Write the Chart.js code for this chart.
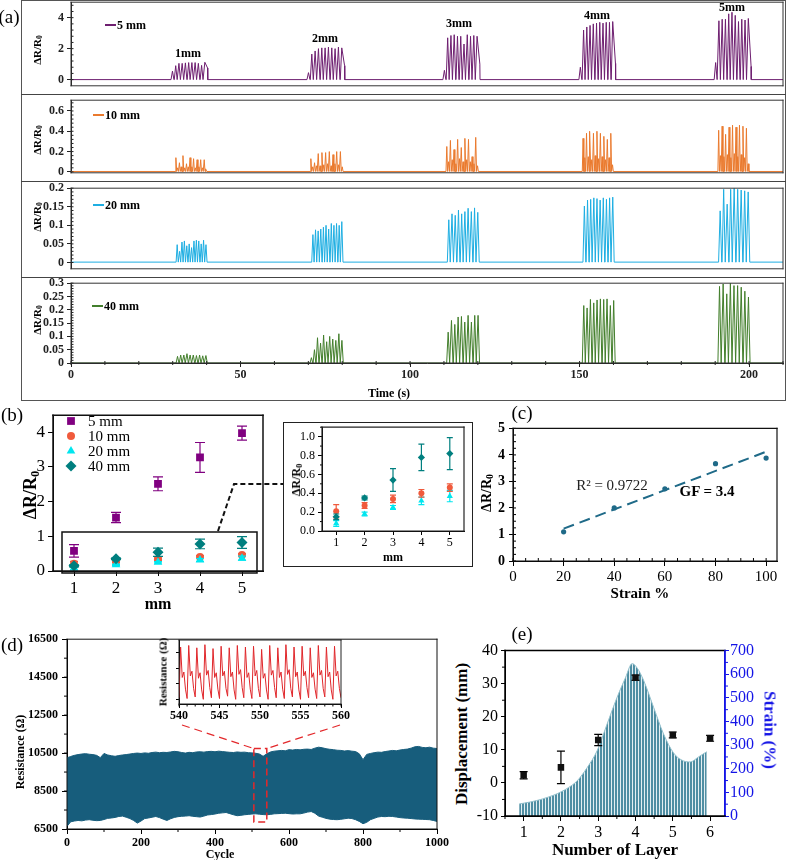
<!DOCTYPE html>
<html>
<head>
<meta charset="utf-8">
<title>Strain sensor response</title>
<script src="https://cdn.jsdelivr.net/npm/chart.js@4.4.1/dist/chart.umd.min.js"></script>
<style>
  html, body { margin: 0; padding: 0; background: #fff; }
  #fig { position: relative; width: 786px; height: 860px; overflow: hidden;
         font-family: 'Liberation Serif', 'Times New Roman', serif; color: #000; }
  #fig canvas { position: absolute; }
  .lbl { position: absolute; white-space: nowrap; line-height: 1; }
  .box { position: absolute; box-sizing: border-box; }
  .lbl sub { font-size: 70%; vertical-align: -0.2em; line-height: 0; }
</style>
</head>
<body>
<div id="fig"></div>
<script>
// ---------- (a) pulse trains, one inner list of peak heights per burst ----------
const timeTicks = [0, 50, 100, 150, 200];
const burstLabels = ['1mm', '2mm', '3mm', '4mm', '5mm'];

const starts5 = [29.5, 69.6, 109.7, 149.8, 189.7];
const ends5 = [40.0, 80.4, 120.3, 160.3, 200.3];
const peaks5 = [
  [0.55, 0.9, 1.05, 1.05, 1.08, 1.1, 1.1, 1.1, 1.05, 0.92, 1.12],
  [0.45, 1.65, 1.85, 2.0, 2.05, 2.05, 2.1, 2.05, 2.0, 2.1, 2.05],
  [0.6, 2.7, 2.85, 2.9, 2.8, 2.8, 2.3, 2.9, 2.8, 2.85, 2.8],
  [0.8, 3.2, 3.4, 3.5, 3.6, 3.65, 3.7, 3.65, 3.7, 3.7, 3.75],
  [1.1, 3.8, 3.9, 3.9, 4.25, 4.35, 4.15, 3.75, 3.9, 3.85, 3.95]
];
const tails5 = [0.75, 0.9, 1.0, 1.05, 0.85];

const starts10 = [30.7, 70.5, 110.6, 150.8, 190.8];
const ends10 = [40.1, 80.3, 120.2, 160.0, 200.0];
const peaks10 = [
  [0.14, 0.04, 0.09, 0.05, 0.16, 0.04, 0.08, 0.05, 0.14, 0.05, 0.13, 0.04, 0.12, 0.05, 0.12, 0.04, 0.12, 0.03],
  [0.13, 0.05, 0.09, 0.06, 0.18, 0.06, 0.19, 0.07, 0.19, 0.08, 0.2, 0.06, 0.17, 0.08, 0.2, 0.07, 0.2, 0.05],
  [0.25, 0.1, 0.31, 0.12, 0.22, 0.08, 0.32, 0.13, 0.24, 0.1, 0.33, 0.12, 0.32, 0.1, 0.15, 0.08, 0.34, 0.06],
  [0.33, 0.14, 0.38, 0.15, 0.4, 0.12, 0.38, 0.16, 0.4, 0.13, 0.38, 0.15, 0.35, 0.12, 0.32, 0.14, 0.38, 0.07],
  [0.41, 0.16, 0.45, 0.15, 0.37, 0.17, 0.44, 0.14, 0.46, 0.18, 0.44, 0.15, 0.46, 0.17, 0.45, 0.14, 0.43, 0.08]
];

const starts20 = [31.0, 71.0, 111.0, 151.0, 191.0];
const ends20 = [40.2, 80.3, 120.5, 160.3, 200.3];
const peaks20 = [
  [0.048, 0.03, 0.055, 0.058, 0.045, 0.05, 0.04, 0.058, 0.06, 0.058, 0.05, 0.06, 0.048],
  [0.075, 0.088, 0.085, 0.09, 0.095, 0.1, 0.09, 0.105, 0.1, 0.105, 0.1, 0.11],
  [0.115, 0.131, 0.127, 0.141, 0.131, 0.137, 0.146, 0.137, 0.147, 0.135],
  [0.152, 0.168, 0.17, 0.174, 0.172, 0.168, 0.174, 0.17, 0.174, 0.176],
  [0.139, 0.197, 0.157, 0.197, 0.2, 0.197, 0.195, 0.193, 0.19]
];

const starts40 = [31.0, 70.5, 110.8, 150.8, 190.8];
const ends40 = [40.3, 80.4, 120.6, 160.6, 200.4];
const peaks40 = [
  [0.025, 0.03, 0.03, 0.035, 0.03, 0.03, 0.028, 0.03, 0.027, 0.028],
  [0.02, 0.05, 0.095, 0.075, 0.105, 0.08, 0.1, 0.09, 0.085, 0.11, 0.085],
  [0.116, 0.16, 0.145, 0.173, 0.175, 0.154, 0.179, 0.154, 0.179, 0.179],
  [0.216, 0.207, 0.239, 0.226, 0.237, 0.241, 0.239, 0.241, 0.216, 0.235],
  [0.288, 0.297, 0.26, 0.3, 0.291, 0.291, 0.285, 0.27, 0.248]
];

const ticks5 = [0, 2, 4];
const ticks10 = [0, 0.2, 0.4, 0.6];
const ticks20 = [0, 0.05, 0.1, 0.15, 0.2];
const ticks40 = [0, 0.05, 0.1, 0.15, 0.2, 0.25, 0.3];

// ---------- (b) mean response vs gap ----------
const gapMM = [1, 2, 3, 4, 5];
const dr5 = [0.58, 1.54, 2.51, 3.27, 3.97];
const err5 = [0.18, 0.15, 0.2, 0.43, 0.2];
const dr10 = [0.21, 0.27, 0.34, 0.40, 0.46];
const err10 = [0.07, 0.03, 0.04, 0.04, 0.04];
const dr20 = [0.08, 0.18, 0.25, 0.32, 0.37];
const err20 = [0.03, 0.02, 0.02, 0.04, 0.06];
const dr40 = [0.15, 0.35, 0.54, 0.78, 0.82];
const err40 = [0.03, 0.02, 0.12, 0.14, 0.17];
const bTicksY = [0, 1, 2, 3, 4];
const insetTicksY = [0, 0.2, 0.4, 0.6, 0.8, 1.0];

// ---------- (c) gauge factor ----------
const strainPct = [20, 40, 60, 80, 100];
const gfRatio = [1.1, 2.0, 2.72, 3.67, 3.88];
const fitX = [20, 100];
const fitY = [1.22, 4.12];
const cTicksX = [0, 20, 40, 60, 80, 100];
const cTicksY = [0, 1, 2, 3, 4, 5];

// ---------- (d) 1000 cycle test (envelope every 10 cycles) ----------
const resUpper = [
  10250, 10320, 10380, 10420, 10450, 10470, 10440, 10420, 10380, 10260,
  10480, 10400, 10360, 10330, 10370, 10400, 10420, 10450, 10480, 10500,
  10480, 10510, 10490, 10530, 10550, 10520, 10540, 10530, 10560, 10590,
  10570, 10530, 10500, 10540, 10520, 10560, 10570, 10550, 10580, 10590,
  10570, 10600, 10580, 10560, 10540, 10530, 10560, 10540, 10550, 10520,
  10510, 10490, 10450, 10330, 10460, 10560, 10600, 10620, 10640, 10620,
  10680, 10660, 10690, 10670, 10700, 10710, 10690, 10760, 10810, 10780,
  10730, 10700, 10680, 10650, 10640, 10610, 10630, 10600, 10580, 10460,
  10150, 10430, 10480, 10520, 10550, 10540, 10580, 10610, 10640, 10620,
  10660, 10690, 10710, 10760, 10830, 10850, 10800, 10780, 10810, 10760,
  10740
];
const resLower = [
  6640, 6880, 6920, 6950, 6930, 6970, 6990, 6960, 6940, 6950,
  7000, 7060, 7080, 7110, 7160, 7180, 7120, 7050, 6950, 6810,
  6920, 7050, 7080, 7120, 7160, 7100, 7020, 6950, 7040, 7110,
  7150, 7170, 7180, 7200, 7170, 7150, 7130, 7180, 7240, 7260,
  7290, 7330, 7350, 7370, 7310, 7250, 7200, 7220, 7250, 7270,
  7290, 7300, 7280, 7260, 7250, 7270, 7300, 7310, 7320, 7330,
  7310, 7290, 7300, 7300, 7340, 7390, 7420, 7330, 7180, 7120,
  7060, 7020, 7000, 6990, 7010, 7040, 7070, 7050, 6990, 6900,
  6780, 6850, 6990, 7060, 7130, 7160, 7150, 7170, 7160, 7130,
  7100, 7080, 7070, 7050, 7030, 7020, 7010, 7000, 6990, 6950,
  6900
];
// zoom 540-560, five samples per cycle
const resZoom = [
  7100, 10350, 8400, 8750, 7650,  7050, 10450, 8500, 8800, 7700,
  7150, 10300, 8350, 8700, 7600,  7000, 10500, 8550, 8850, 7750,
  7100, 10250, 8400, 8700, 7650,  7050, 10400, 8500, 8800, 7700,
  7200, 10300, 8450, 8750, 7600,  7000, 10450, 8600, 8900, 7750,
  7100, 10350, 8400, 8700, 7650,  7050, 10400, 8500, 8850, 7700,
  7150, 10200, 8350, 8650, 7600,  7000, 10450, 8550, 8850, 7750,
  7100, 10300, 8400, 8750, 7650,  7050, 10500, 8600, 8900, 7700,
  7150, 10350, 8450, 8750, 7600,  7000, 10400, 8500, 8800, 7750,
  7100, 10300, 8400, 8700, 7650,  7050, 10450, 8550, 8850, 7700,
  7150, 10350, 8450, 8750, 7600,  7000, 10400, 8500, 8800, 7700,
  7100
];
const dTicksX = [0, 200, 400, 600, 800, 1000];
const dTicksY = [6500, 8500, 10500, 12500, 14500, 16500];
const zoomTicksX = [540, 545, 550, 555, 560];
const zoomTicksY = [7000, 8000, 9000, 10000];

// ---------- (e) layers ----------
const layers = [1, 2, 3, 4, 5, 6];
const disp = [2.3, 4.7, 13.0, 31.8, 14.5, 13.5];
const dispErr = [1.1, 4.9, 1.7, 0.8, 0.9, 0.9];
const strainX = [0.88, 1.2, 1.5, 1.8, 2.0, 2.2, 2.43, 2.7, 2.97, 3.24, 3.5, 3.73, 3.91, 4.05, 4.22, 4.49, 4.75, 5.02, 5.29, 5.47, 5.69, 5.91];
const strainY = [51, 60, 72, 88, 102, 120, 148, 204, 276, 390, 500, 585, 645, 625, 573, 458, 348, 267, 233, 229, 250, 272];
const eTicksY = [-10, 0, 10, 20, 30, 40];
const eTicksY1 = [0, 100, 200, 300, 400, 500, 600, 700];

// ---------- setup ----------
const fig = document.getElementById('fig');
Chart.defaults.font.family = "'Liberation Serif', 'Times New Roman', serif";
Chart.defaults.font.size = 12;
Chart.defaults.color = '#000';
Chart.defaults.animation = false;
Chart.defaults.events = [];
Chart.defaults.plugins.legend.display = false;
Chart.defaults.plugins.tooltip.enabled = false;

function drawMark(c, style, x, y, r) {
  c.beginPath();
  if (style === 'rect') {
    const s = r * Math.SQRT1_2;
    c.rect(x - s, y - s, 2 * s, 2 * s);
  } else if (style === 'circle') {
    c.arc(x, y, r, 0, 2 * Math.PI);
  } else if (style === 'triangle') {
    for (let k = 0; k < 3; k++) {
      const ang = k * 2 * Math.PI / 3;
      c.lineTo(x + Math.sin(ang) * r, y - Math.cos(ang) * r);
    }
    c.closePath();
  } else {
    c.moveTo(x, y - r); c.lineTo(x + r, y); c.lineTo(x, y + r); c.lineTo(x - r, y); c.closePath();
  }
  c.fill();
}

// frame, minor ticks, zoom guides and key markers
const extrasPlugin = {
  id: 'extras',
  afterDraw(chart) {
    const ex = chart.canvas.extras || {};
    const c = chart.ctx, a = chart.chartArea;
    const ox = parseFloat(chart.canvas.style.left), oy = parseFloat(chart.canvas.style.top);
    c.save();
    (ex.minor || []).forEach(m => {
      const s = chart.scales[m.axis];
      const len = m.len || 3;
      c.strokeStyle = m.color || '#000';
      c.lineWidth = 1;
      c.beginPath();
      for (let i = 0; ; i++) {
        const v = m.from + i * m.step;
        if (v > m.to + 1e-9) break;
        const p = s.getPixelForValue(v);
        if (s.isHorizontal()) {
          const y0 = s.top;
          const y1 = m.dir === 'out' ? y0 : y0 - len;
          const y2 = m.dir === 'in' ? y0 : y0 + len;
          c.moveTo(p, y1); c.lineTo(p, y2);
        } else {
          const left = s.position === 'left';
          const x0 = left ? s.right : s.left;
          const inward = left ? len : -len;
          const x1 = m.dir === 'out' ? x0 : x0 + inward;
          const x2 = m.dir === 'in' ? x0 : x0 - inward;
          c.moveTo(x1, p); c.lineTo(x2, p);
        }
      }
      c.stroke();
    });
    if (ex.frame) {
      const f = ex.frame;
      c.lineWidth = f.width || 1;
      c.lineCap = 'square';
      const seg = (col, x1, y1, x2, y2) => {
        if (!col) return;
        c.strokeStyle = col;
        c.beginPath(); c.moveTo(x1, y1); c.lineTo(x2, y2); c.stroke();
      };
      seg(f.t, a.left, a.top, a.right, a.top);
      seg(f.r, a.right, a.top, a.right, a.bottom);
      seg(f.b, a.left, a.bottom, a.right, a.bottom);
      seg(f.l, a.left, a.top, a.left, a.bottom);
      c.lineCap = 'butt';
    }
    (ex.paths || []).forEach(p => {
      c.strokeStyle = p.color;
      c.lineWidth = p.width;
      c.setLineDash(p.dash || []);
      c.beginPath();
      p.pts.forEach((q, i) => {
        let x, y;
        if (Array.isArray(q)) { x = q[0] - ox; y = q[1] - oy; }
        else { x = chart.scales.x.getPixelForValue(q.x); y = chart.scales.y.getPixelForValue(q.y); }
        if (i) c.lineTo(x, y); else c.moveTo(x, y);
      });
      if (p.close) c.closePath();
      c.stroke();
      c.setLineDash([]);
    });
    (ex.keys || []).forEach(k => {
      c.fillStyle = k.color;
      drawMark(c, k.style, k.x - ox, k.y - oy, k.r);
    });
    c.restore();
  }
};

// vertical error bars, drawn just under each dataset's markers
const errPlugin = {
  id: 'errbars',
  beforeDatasetDraw(chart, args) {
    const ds = chart.data.datasets[args.index];
    if (!ds.errors) return;
    const ys = chart.scales[args.meta.yAxisID];
    const c = chart.ctx;
    const cap = ds.capW || 4;
    c.save();
    c.strokeStyle = ds.errColor;
    c.lineWidth = ds.errWidth || 1.2;
    args.meta.data.forEach((pt, i) => {
      const v = ds.data[i].y, e = ds.errors[i];
      const y1 = ys.getPixelForValue(v + e), y2 = ys.getPixelForValue(v - e);
      c.beginPath();
      c.moveTo(pt.x, y1); c.lineTo(pt.x, y2);
      c.moveTo(pt.x - cap, y1); c.lineTo(pt.x + cap, y1);
      c.moveTo(pt.x - cap, y2); c.lineTo(pt.x + cap, y2);
      c.stroke();
    });
    c.restore();
  }
};
Chart.register(extrasPlugin, errPlugin);

function axis(o) {
  const col = o.color || '#000';
  return {
    type: 'linear', position: o.pos, min: o.min, max: o.max, display: o.display !== false,
    afterBuildTicks: s => { s.ticks = o.ticks.map(v => ({value: v})); },
    afterFit: s => { if (s.isHorizontal()) s.height = o.size; else s.width = o.size; },
    grid: {drawOnChartArea: false, drawTicks: true, tickLength: o.tickLen ?? 5, color: col, lineWidth: 1},
    border: {display: true, color: col, width: o.lineW || 1},
    ticks: {display: o.labels !== false, font: o.font, color: col, padding: o.pad ?? 2,
            callback: o.fmt || (v => String(v)), maxRotation: 0, autoSkip: false}
  };
}

// g: plot area in page pixels plus axis band sizes
function plot(g, datasets, scales, extras) {
  const pad = Object.assign({top: 12, right: 12, bottom: 4, left: 4}, g.pad || {});
  const W = g.r - g.l + g.yW + (g.rW || 0) + pad.left + pad.right;
  const H = g.b - g.t + (g.xH || 0) + pad.top + pad.bottom;
  const cv = document.createElement('canvas');
  cv.width = W; cv.height = H;
  cv.style.left = (g.l - g.yW - pad.left) + 'px';
  cv.style.top = (g.t - pad.top) + 'px';
  cv.style.width = W + 'px'; cv.style.height = H + 'px';
  cv.extras = extras || {};
  fig.appendChild(cv);
  return new Chart(cv, {
    type: 'line',
    data: {datasets},
    options: {responsive: false, maintainAspectRatio: false, layout: {padding: pad}, scales}
  });
}

function text(html, x, y, css, opt) {
  const d = document.createElement('div');
  d.className = 'lbl';
  d.innerHTML = html;
  d.style.cssText = `left:${x}px;top:${y}px;${css || ''}`;
  const o = opt || {};
  const tr = o.left ? 'translate(0,-50%)' : 'translate(-50%,-50%)';
  d.style.transform = tr + (o.rot ? ` rotate(${o.rot}deg)` : '');
  fig.appendChild(d);
}
function rect(x, y, w, h, css) {
  const d = document.createElement('div');
  d.className = 'box';
  d.style.cssText = `left:${x}px;top:${y}px;width:${w}px;height:${h}px;${css}`;
  fig.appendChild(d);
}

const BOLD = 'font-weight:bold;';

// ---------- (a) ----------
function spikes(row) {
  const pts = [{x: 0, y: row.base}];
  row.starts.forEach((t0, b) => {
    const pk = row.peaks[b];
    const w = (row.ends[b] - t0) / pk.length;
    pk.forEach((p, i) => {
      const t = t0 + i * w;
      pts.push({x: t, y: row.base}, {x: t + 0.45 * w, y: p}, {x: t + 0.9 * w, y: row.base});
    });
    if (row.tails) {
      pts.pop();
      const tLast = t0 + (pk.length - 1) * w;
      pts.push({x: tLast + 1.3 * w, y: row.tails[b]}, {x: tLast + 1.35 * w, y: row.base});
    }
  });
  pts.push({x: 210, y: row.base});
  return pts;
}

const aRows = [
  {name: '5 mm', color: '#6e1f70', starts: starts5, ends: ends5, peaks: peaks5, tails: tails5, base: 0, ticks: ticks5},
  {name: '10 mm', color: '#ea7a2e', starts: starts10, ends: ends10, peaks: peaks10, base: 0.004, ticks: ticks10},
  {name: '20 mm', color: '#1eaee2', starts: starts20, ends: ends20, peaks: peaks20, base: 0.001, ticks: ticks20},
  {name: '40 mm', color: '#437f2c', starts: starts40, ends: ends40, peaks: peaks40, base: 0, ticks: ticks40}
];
const aGeom = [
  {t: 2, b: 94, min: -0.4, max: 5, minor: 0.4, from: 0, to: 4.8, title: 50, key: [105, 25]},
  {t: 100, b: 181, min: -0.009, max: 0.706, minor: 0.04, from: 0, to: 0.68, title: 140, key: [93, 115]},
  {t: 188, b: 277, min: -0.017, max: 0.2, minor: 0.01, from: 0, to: 0.2, title: 217, key: [93, 205]},
  {t: 283, b: 363, min: 0, max: 0.3, minor: 0.01, from: 0, to: 0.3, title: 320, key: [92, 306]}
];

aRows.forEach((row, i) => {
  const g = aGeom[i];
  const last = i === aRows.length - 1;
  const xH = last ? 22 : 0;
  plot({l: 71, r: 783, t: g.t, b: g.b, yW: 48, xH, pad: {top: 10, right: 3, bottom: 2, left: 4}},
    [{data: spikes(row), borderColor: row.color, borderWidth: 1, pointRadius: 0, fill: false}],
    {
      x: axis({pos: 'bottom', min: 0, max: 210, ticks: timeTicks, size: xH, display: last,
               font: {size: 12, weight: 'bold'}, tickLen: 4, pad: 1, color: '#222'}),
      y: axis({pos: 'left', min: g.min, max: g.max, ticks: row.ticks, size: 48,
               font: {size: 12, weight: 'bold'}, tickLen: 4, pad: 3, color: '#222'})
    },
    {
      frame: {t: '#333', r: '#333', b: '#333', l: '#333', width: 1},
      minor: [{axis: 'y', from: g.from, to: g.to, step: g.minor, dir: 'in', len: 2.5, color: '#222'}]
        .concat(last ? [{axis: 'x', from: 0, to: 210, step: 10, dir: 'cross', len: 2, color: '#222'}] : [])
    });
  text('ΔR/R<sub>0</sub>', 37, g.title, BOLD + 'font-size:11px;', {rot: -90});
  rect(g.key[0], g.key[1] - 1, 11, 2, `background:${row.color};`);
  text(row.name, g.key[0] + 12, g.key[1], BOLD + 'font-size:12px;', {left: true});
});

rect(21, 0, 765, 401, 'border:1.5px solid #555;');
rect(21, 93.5, 765, 1.5, 'background:#444;');
rect(21, 180.5, 765, 1.5, 'background:#444;');
rect(21, 276.5, 765, 1.5, 'background:#444;');
const burstPos = [[188, 53], [325, 38], [459, 23], [597, 15], [732, 7]];
burstLabels.forEach((s, i) => text(s, burstPos[i][0], burstPos[i][1], BOLD + 'font-size:12px;'));
text('Time (s)', 389, 393, BOLD + 'font-size:12px;');
text('(a)', 9, 16, 'font-size:19px;');

// ---------- (b) ----------
function ptSet(xs, ys, errs, color, style, r, cap) {
  return {
    data: xs.map((x, i) => ({x, y: ys[i]})), errors: errs, errColor: color, capW: cap,
    showLine: false, pointStyle: style, pointRadius: r,
    pointBackgroundColor: color, pointBorderColor: color, pointBorderWidth: 0, borderColor: color
  };
}
const C5 = '#800080', C10 = '#f05a3c', C20 = '#00e6ef', C40 = '#007f7f';

plot({l: 53, t: 414, r: 263, b: 571, yW: 30, xH: 26, pad: {top: 12, right: 28, bottom: 6, left: 6}},
  [
    ptSet(gapMM, dr40, err40, C40, 'rectRot', 5.5, 5),
    ptSet(gapMM, dr20, err20, C20, 'triangle', 5, 4),
    ptSet(gapMM, dr10, err10, C10, 'circle', 4, 4),
    ptSet(gapMM, dr5, err5, C5, 'rect', 5.5, 5)
  ],
  {
    x: axis({pos: 'bottom', min: 0.5, max: 5.5, ticks: gapMM, size: 26, font: {size: 17}, tickLen: 5, pad: 2}),
    y: axis({pos: 'left', min: 0, max: 4.486, ticks: bTicksY, size: 30, font: {size: 17}, tickLen: 5, pad: 3})
  },
  {
    frame: {t: '#111', r: '#111', b: '#111', l: '#111', width: 1.5},
    paths: [
      {pts: [[62, 532], [257, 532], [257, 573], [62, 573]], close: true, color: '#111', width: 1.5},
      {pts: [[218, 531], [234, 484], [283, 484]], color: '#111', width: 2, dash: [5, 3]}
    ],
    keys: [
      {x: 71, y: 421, style: 'rect', color: C5, r: 5.5},
      {x: 71, y: 436, style: 'circle', color: C10, r: 4},
      {x: 71, y: 451, style: 'triangle', color: C20, r: 5},
      {x: 71, y: 466, style: 'diamond', color: C40, r: 5.5}
    ]
  });
['5 mm', '10 mm', '20 mm', '40 mm'].forEach((s, i) => text(s, 88, 421 + 15 * i, 'font-size:15px;', {left: true}));
text('ΔR/R<sub>0</sub>', 30, 495, BOLD + 'font-size:18px;', {rot: -90});
text('mm', 158, 604, BOLD + 'font-size:16px;');
text('(b)', 12, 414, 'font-size:19px;');

// inset of (b)
rect(283, 422, 190, 145, 'border:1.5px solid #222;background:#fff;');
plot({l: 322, t: 425, r: 464, b: 531, yW: 26, xH: 16, pad: {top: 8, right: 8, bottom: 4, left: 4}},
  [
    ptSet(gapMM, dr40, err40, C40, 'rectRot', 3.6, 3),
    ptSet(gapMM, dr10, err10, C10, 'circle', 3, 3),
    ptSet(gapMM, dr20, err20, C20, 'triangle', 3.6, 3)
  ],
  {
    x: axis({pos: 'bottom', min: 0.5, max: 5.5, ticks: gapMM, size: 16, font: {size: 12}, tickLen: 4, pad: 1}),
    y: axis({pos: 'left', min: 0, max: 1.1, ticks: insetTicksY, size: 26, font: {size: 12},
             fmt: v => v.toFixed(1), tickLen: 4, pad: 3})
  },
  {
    frame: {t: '#222', r: '#222', b: '#222', l: '#222', width: 1.2},
    minor: [{axis: 'y', from: 0.1, to: 1.1, step: 0.2, dir: 'out', len: 2}]
  });
text('ΔR/R<sub>0</sub>', 296, 480, BOLD + 'font-size:12px;', {rot: -90});
text('mm', 393, 557, BOLD + 'font-size:12px;');

// ---------- (c) ----------
const CG = '#1f6a88';
plot({l: 513, t: 426, r: 777, b: 561, yW: 24, xH: 24, pad: {top: 10, right: 8, bottom: 4, left: 4}},
  [
    {data: strainPct.map((x, i) => ({x, y: gfRatio[i]})), showLine: false, pointRadius: 2.6,
     pointBackgroundColor: CG, pointBorderWidth: 0, borderColor: CG},
    {data: fitX.map((x, i) => ({x, y: fitY[i]})), borderColor: CG, borderWidth: 2, borderDash: [11, 6], pointRadius: 0}
  ],
  {
    x: axis({pos: 'bottom', min: 0, max: 104.3, ticks: cTicksX, size: 24, font: {size: 15}, tickLen: 5, pad: 2}),
    y: axis({pos: 'left', min: 0, max: 5, ticks: cTicksY, size: 24, font: {size: 14, weight: 'bold'}, tickLen: 4, pad: 4})
  },
  {
    frame: {t: '#111', r: '#111', b: '#111', l: '#111', width: 1.2},
    minor: [
      {axis: 'x', from: 0, to: 100, step: 5, dir: 'in', len: 3},
      {axis: 'y', from: 0, to: 5, step: 0.25, dir: 'in', len: 3}
    ]
  });
text('ΔR/R<sub>0</sub>', 487, 493, BOLD + 'font-size:14px;', {rot: -90});
text('Strain %', 640, 593, BOLD + 'font-size:15px;');
text('R² = 0.9722', 612, 485, 'font-size:15px;color:#222;');
text('GF = 3.4', 707, 491, BOLD + 'font-size:15px;');
text('(c)', 522, 412, 'font-size:19px;');

// ---------- (d) ----------
const CD = '#175d7c';
const cycles = resUpper.map((_, i) => i * 10);
plot({l: 67, t: 638, r: 437, b: 829, yW: 60, xH: 22, pad: {top: 10, right: 14, bottom: 4, left: 6}},
  [
    {data: cycles.map((x, i) => ({x, y: resUpper[i]})), borderColor: CD, borderWidth: 1, pointRadius: 0,
     fill: '+1', backgroundColor: CD},
    {data: cycles.map((x, i) => ({x, y: resLower[i]})), borderColor: CD, borderWidth: 1, pointRadius: 0, fill: false}
  ],
  {
    x: axis({pos: 'bottom', min: 0, max: 1000, ticks: dTicksX, size: 22, font: {size: 12, weight: 'bold'}, tickLen: 5, pad: 2}),
    y: axis({pos: 'left', min: 6500, max: 16500, ticks: dTicksY, size: 60, font: {size: 12, weight: 'bold'}, tickLen: 5, pad: 4})
  },
  {
    frame: {t: '#111', r: '#111', b: '#111', l: '#111', width: 1},
    minor: [
      {axis: 'x', from: 100, to: 900, step: 200, dir: 'out', len: 3},
      {axis: 'y', from: 7500, to: 15500, step: 1000, dir: 'out', len: 3}
    ],
    paths: [
      {pts: [{x: 505, y: 10740}, {x: 540, y: 10740}, {x: 540, y: 6870}, {x: 505, y: 6870}], close: true,
       color: '#e3282b', width: 1.5, dash: [7, 4]},
      {pts: [[182, 725], {x: 505, y: 10740}], color: '#e3282b', width: 1.2, dash: [8, 5]},
      {pts: [[340, 725], {x: 540, y: 10740}], color: '#e3282b', width: 1.2, dash: [8, 5]}
    ]
  });
text('Resistance (Ω)', 20, 752, BOLD + 'font-size:12px;', {rot: -90});
text('Cycle', 220, 854, BOLD + 'font-size:12px;');
text('(d)', 12, 644, 'font-size:19px;');

// inset of (d)
plot({l: 179, t: 640, r: 341, b: 704, yW: 6, xH: 16, pad: {top: 6, right: 14, bottom: 4, left: 4}},
  [{data: resZoom.map((v, i) => ({x: 540 + i * 0.2, y: v})), borderColor: '#e0262a', borderWidth: 1, pointRadius: 0, fill: false}],
  {
    x: axis({pos: 'bottom', min: 540, max: 560, ticks: zoomTicksX, size: 16, font: {size: 12, weight: 'bold'}, tickLen: 4, pad: 1}),
    y: axis({pos: 'left', min: 6700, max: 10800, ticks: zoomTicksY, size: 6, labels: false, tickLen: 3, pad: 0})
  },
  {
    frame: {t: '#222', r: '#222', b: '#222', l: '#222', width: 1},
    minor: [{axis: 'x', from: 540, to: 560, step: 1, dir: 'out', len: 2.5}]
  });
text('Resistance (Ω)', 163, 672, BOLD + 'font-size:11px;', {rot: -90});

// ---------- (e) ----------
const stripeCv = document.createElement('canvas');
stripeCv.width = 3; stripeCv.height = 8;
const sctx = stripeCv.getContext('2d');
sctx.fillStyle = '#e4eff2'; sctx.fillRect(0, 0, 3, 8);
sctx.fillStyle = '#4f8ea3'; sctx.fillRect(0, 0, 2, 8);
const stripes = sctx.createPattern(stripeCv, 'repeat');
const BLUE = '#1414e6';

plot({l: 505, t: 648, r: 725, b: 816, yW: 30, rW: 42, xH: 24, pad: {top: 10, right: 6, bottom: 4, left: 4}},
  [
    {data: layers.map((x, i) => ({x, y: disp[i]})), yAxisID: 'y', errors: dispErr, errColor: '#000', capW: 4,
     showLine: false, pointStyle: 'rect', pointRadius: 4.6, pointBackgroundColor: '#111', pointBorderWidth: 0, borderColor: '#111'},
    {data: strainX.map((x, i) => ({x, y: strainY[i]})), yAxisID: 'y1', borderColor: '#94c1cd', borderWidth: 1,
     pointRadius: 0, fill: 'origin', backgroundColor: stripes, cubicInterpolationMode: 'monotone'}
  ],
  {
    x: axis({pos: 'bottom', min: 0.5, max: 6.4, ticks: layers, size: 24, font: {size: 16}, tickLen: 5, pad: 2}),
    y: axis({pos: 'left', min: -10, max: 40, ticks: eTicksY, size: 30, font: {size: 16}, tickLen: 4, pad: 3}),
    y1: axis({pos: 'right', min: 0, max: 700, ticks: eTicksY1, size: 42, font: {size: 16}, tickLen: 4, pad: 1,
              color: BLUE, lineW: 1.5})
  },
  {
    frame: {t: '#000', r: BLUE, b: '#000', l: '#000', width: 1.5},
    minor: [
      {axis: 'x', from: 0.5, to: 6, step: 1, dir: 'out', len: 3},
      {axis: 'y', from: -5, to: 35, step: 10, dir: 'out', len: 3},
      {axis: 'y1', from: 50, to: 650, step: 100, dir: 'out', len: 3, color: BLUE}
    ]
  });
text('Displacement (mm)', 461, 734, BOLD + 'font-size:17px;', {rot: -90});
text('Strain (%)', 770, 730, BOLD + 'font-size:17px;color:' + BLUE + ';', {rot: 90});
text('Number of Layer', 615, 849, BOLD + 'font-size:17px;');
text('(e)', 522, 633, 'font-size:19px;');
</script>
</body>
</html>
